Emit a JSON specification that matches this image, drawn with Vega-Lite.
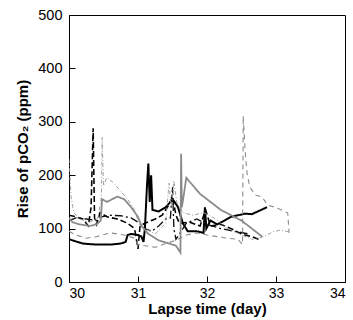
{
  "$schema": "https://vega.github.io/schema/vega-lite/v6.json",
  "autosize": {"type": "none"},
  "padding": {"left": 69, "top": 15, "right": 8, "bottom": 38},
  "width": 276,
  "height": 267,
  "background": "white",
  "config": {
    "view": {"stroke": "black", "strokeWidth": 1},
    "font": "Liberation Sans"
  },
  "datasets": {
    "d": [
      {"s":"A","t":30.00,"v":80},{"s":"A","t":30.05,"v":78},{"s":"A","t":30.2,"v":72},{"s":"A","t":30.4,"v":70},{"s":"A","t":30.6,"v":70},{"s":"A","t":30.75,"v":72},{"s":"A","t":30.82,"v":75},{"s":"A","t":30.85,"v":88},{"s":"A","t":30.9,"v":90},{"s":"A","t":31.0,"v":88},{"s":"A","t":31.05,"v":85},{"s":"A","t":31.08,"v":75},{"s":"A","t":31.1,"v":100},{"s":"A","t":31.13,"v":180},{"s":"A","t":31.15,"v":222},{"s":"A","t":31.17,"v":150},{"s":"A","t":31.19,"v":200},{"s":"A","t":31.21,"v":135},{"s":"A","t":31.3,"v":132},{"s":"A","t":31.4,"v":140},{"s":"A","t":31.47,"v":150},{"s":"A","t":31.52,"v":152},{"s":"A","t":31.58,"v":140},{"s":"A","t":31.65,"v":110},{"s":"A","t":31.72,"v":95},{"s":"A","t":31.85,"v":95},{"s":"A","t":31.95,"v":92},{"s":"A","t":31.97,"v":140},{"s":"A","t":31.99,"v":100},{"s":"A","t":32.05,"v":115},{"s":"A","t":32.15,"v":108},{"s":"A","t":32.25,"v":115},{"s":"A","t":32.35,"v":122},{"s":"A","t":32.45,"v":125},{"s":"A","t":32.55,"v":128},{"s":"A","t":32.65,"v":127},{"s":"A","t":32.75,"v":133},{"s":"A","t":32.87,"v":140},
      {"s":"C","t":30.00,"v":125},{"s":"C","t":30.1,"v":122},{"s":"C","t":30.2,"v":118},{"s":"C","t":30.28,"v":105},{"s":"C","t":30.32,"v":140},{"s":"C","t":30.35,"v":288},{"s":"C","t":30.37,"v":120},{"s":"C","t":30.4,"v":108},{"s":"C","t":30.45,"v":130},{"s":"C","t":30.55,"v":122},{"s":"C","t":30.7,"v":118},{"s":"C","t":30.85,"v":110},{"s":"C","t":30.95,"v":100},{"s":"C","t":31.0,"v":62},{"s":"C","t":31.03,"v":105},{"s":"C","t":31.1,"v":110},{"s":"C","t":31.25,"v":118},{"s":"C","t":31.35,"v":125},{"s":"C","t":31.45,"v":145},{"s":"C","t":31.5,"v":160},{"s":"C","t":31.55,"v":125},{"s":"C","t":31.6,"v":110},{"s":"C","t":31.75,"v":112},{"s":"C","t":31.9,"v":105},{"s":"C","t":31.98,"v":135},{"s":"C","t":32.05,"v":105},{"s":"C","t":32.2,"v":108},{"s":"C","t":32.35,"v":100},{"s":"C","t":32.5,"v":90},{"s":"C","t":32.65,"v":85},{"s":"C","t":32.75,"v":80},
      {"s":"D","t":30.00,"v":115},{"s":"D","t":30.1,"v":120},{"s":"D","t":30.25,"v":118},{"s":"D","t":30.4,"v":115},{"s":"D","t":30.47,"v":122},{"s":"D","t":30.6,"v":125},{"s":"D","t":30.75,"v":124},{"s":"D","t":30.9,"v":120},{"s":"D","t":31.0,"v":112},{"s":"D","t":31.1,"v":100},{"s":"D","t":31.2,"v":95},{"s":"D","t":31.3,"v":105},{"s":"D","t":31.4,"v":118},{"s":"D","t":31.47,"v":120},{"s":"D","t":31.5,"v":178},{"s":"D","t":31.52,"v":100},{"s":"D","t":31.55,"v":80},{"s":"D","t":31.6,"v":90},{"s":"D","t":31.7,"v":110},{"s":"D","t":31.85,"v":118},{"s":"D","t":32.0,"v":108},{"s":"D","t":32.2,"v":100},{"s":"D","t":32.4,"v":95},{"s":"D","t":32.6,"v":90},
      {"s":"B","t":30.00,"v":120},{"s":"B","t":30.05,"v":112},{"s":"B","t":30.15,"v":108},{"s":"B","t":30.3,"v":105},{"s":"B","t":30.4,"v":108},{"s":"B","t":30.46,"v":115},{"s":"B","t":30.48,"v":155},{"s":"B","t":30.55,"v":150},{"s":"B","t":30.7,"v":160},{"s":"B","t":30.8,"v":155},{"s":"B","t":30.9,"v":140},{"s":"B","t":31.0,"v":122},{"s":"B","t":31.05,"v":105},{"s":"B","t":31.15,"v":90},{"s":"B","t":31.3,"v":78},{"s":"B","t":31.45,"v":72},{"s":"B","t":31.55,"v":68},{"s":"B","t":31.615,"v":55},{"s":"B","t":31.625,"v":240},{"s":"B","t":31.635,"v":140},{"s":"B","t":31.66,"v":160},{"s":"B","t":31.7,"v":195},{"s":"B","t":31.8,"v":180},{"s":"B","t":31.9,"v":165},{"s":"B","t":32.0,"v":155},{"s":"B","t":32.1,"v":145},{"s":"B","t":32.2,"v":135},{"s":"B","t":32.35,"v":125},{"s":"B","t":32.5,"v":115},{"s":"B","t":32.65,"v":100},{"s":"B","t":32.8,"v":85},
      {"s":"E","t":30.00,"v":95},{"s":"E","t":30.1,"v":88},{"s":"E","t":30.25,"v":82},{"s":"E","t":30.4,"v":85},{"s":"E","t":30.6,"v":92},{"s":"E","t":30.8,"v":88},{"s":"E","t":30.95,"v":82},{"s":"E","t":31.0,"v":70},{"s":"E","t":31.1,"v":68},{"s":"E","t":31.25,"v":65},{"s":"E","t":31.4,"v":72},{"s":"E","t":31.55,"v":78},{"s":"E","t":31.7,"v":88},{"s":"E","t":31.85,"v":92},{"s":"E","t":32.0,"v":88},{"s":"E","t":32.15,"v":85},{"s":"E","t":32.3,"v":82},{"s":"E","t":32.45,"v":80},{"s":"E","t":32.515,"v":70},{"s":"E","t":32.525,"v":311},{"s":"E","t":32.55,"v":250},{"s":"E","t":32.58,"v":204},{"s":"E","t":32.62,"v":178},{"s":"E","t":32.7,"v":163},{"s":"E","t":32.8,"v":159},{"s":"E","t":32.88,"v":144},{"s":"E","t":33.01,"v":139},{"s":"E","t":33.17,"v":129},{"s":"E","t":33.19,"v":92},
      {"s":"F","t":30.00,"v":230},{"s":"F","t":30.03,"v":160},{"s":"F","t":30.07,"v":130},{"s":"F","t":30.15,"v":118},{"s":"F","t":30.3,"v":112},{"s":"F","t":30.42,"v":120},{"s":"F","t":30.47,"v":160},{"s":"F","t":30.48,"v":271},{"s":"F","t":30.5,"v":180},{"s":"F","t":30.55,"v":196},{"s":"F","t":30.65,"v":185},{"s":"F","t":30.75,"v":170},{"s":"F","t":30.85,"v":155},{"s":"F","t":30.95,"v":135},{"s":"F","t":31.0,"v":115},{"s":"F","t":31.1,"v":100},{"s":"F","t":31.25,"v":90},{"s":"F","t":31.4,"v":110},{"s":"F","t":31.45,"v":185},{"s":"F","t":31.48,"v":140},{"s":"F","t":31.52,"v":190},{"s":"F","t":31.56,"v":150},{"s":"F","t":31.65,"v":130},{"s":"F","t":31.8,"v":125},{"s":"F","t":31.95,"v":130},{"s":"F","t":32.1,"v":120},{"s":"F","t":32.3,"v":100},{"s":"F","t":32.5,"v":88},{"s":"F","t":32.65,"v":80},{"s":"F","t":32.8,"v":84},{"s":"F","t":32.96,"v":94},{"s":"F","t":33.06,"v":97},{"s":"F","t":33.19,"v":94}
    ]
  },
  "data": {"name": "d"},
  "mark": {"type": "line", "clip": true},
  "encoding": {
    "x": {
      "field": "t", "type": "quantitative",
      "scale": {"domain": [30, 34], "nice": false, "zero": false},
      "axis": {
        "values": [30, 31, 32, 33, 34], "format": "d", "grid": false,
        "title": "Lapse time (day)",
        "domainColor": "black", "tickColor": "black", "tickSize": -6, "labelPadding": 10,
        "labelFont": "Liberation Sans", "labelFontSize": 14, "labelColor": "black",
        "titleFont": "Liberation Sans", "titleFontSize": 15, "titleFontWeight": "bold", "titleColor": "black", "titlePadding": 1
      }
    },
    "y": {
      "field": "v", "type": "quantitative",
      "scale": {"domain": [0, 500], "nice": false},
      "axis": {
        "values": [0, 100, 200, 300, 400, 500], "grid": false,
        "title": "Rise of pCO₂ (ppm)",
        "domainColor": "black", "tickColor": "black", "tickSize": -6, "labelPadding": 13,
        "labelFont": "Liberation Sans", "labelFontSize": 14.5, "labelColor": "black",
        "titleFont": "Liberation Sans", "titleFontSize": 15, "titleFontWeight": "bold", "titleColor": "black", "titlePadding": 7
      }
    },
    "color": {
      "field": "s", "type": "nominal", "legend": null,
      "scale": {"domain": ["A", "B", "C", "D", "E", "F"], "range": ["#000000", "#8a8a8a", "#000000", "#111111", "#8c8c8c", "#999999"]}
    },
    "strokeWidth": {
      "field": "s", "type": "nominal", "legend": null,
      "scale": {"domain": ["A", "B", "C", "D", "E", "F"], "range": [2, 0.9, 2, 1.2, 1, 0.9]}
    },
    "strokeDash": {
      "field": "s", "type": "nominal", "legend": null,
      "scale": {"domain": ["A", "B", "C", "D", "E", "F"], "range": [[1, 0], [1, 0], [6, 3], [8, 3, 2, 3], [5, 4], [4, 2, 1, 2]]}
    }
  }
}
